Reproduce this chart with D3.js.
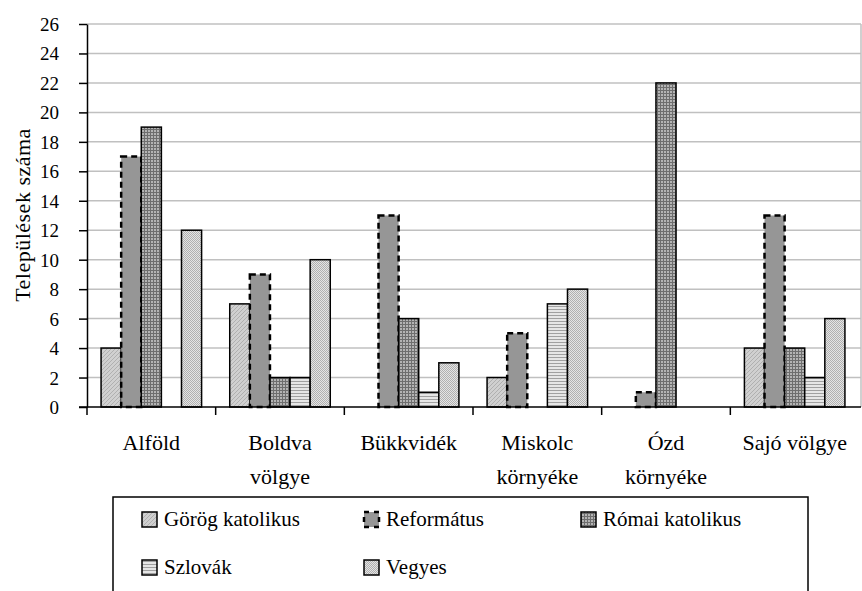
<!DOCTYPE html>
<html>
<head>
<meta charset="utf-8">
<style>
  body { margin: 0; background: #fff; }
  svg text { font-family: "Liberation Serif", "Times New Roman", serif; fill: #000; }
  .cat-label { font-size: 22px; text-anchor: middle; }
  .legend text { font-size: 21px; }
  .grid line { stroke: #c0c0c0; stroke-width: 1.5; }
</style>
<script src="https://d3js.org/d3.v7.min.js"></script>
</head>
<body>
<svg width="862" height="591"></svg>
<script>
// data
var regions = [["Alföld"], ["Boldva", "völgye"], ["Bükkvidék"], ["Miskolc", "környéke"], ["Ózd", "környéke"], ["Sajó völgye"]];
var series = ["Görög katolikus", "Református", "Római katolikus", "Szlovák", "Vegyes"];
var gorog = [4, 7, 0, 2, 0, 4];
var reformatus = [17, 9, 13, 5, 1, 13];
var romai = [19, 2, 6, 0, 22, 4];
var szlovak = [0, 2, 1, 7, 0, 2];
var vegyes = [12, 10, 3, 8, 0, 6];
var yTicks = [0, 2, 4, 6, 8, 10, 12, 14, 16, 18, 20, 22, 24, 26];

var values = [gorog, reformatus, romai, szlovak, vegyes];
var fills = ["url(#pGorog)", "#969696", "url(#pRomai)", "url(#pSzlovak)", "url(#pVegyes)"];

var svg = d3.select("svg");
var plotL = 87, plotR = 859, plotT = 24, plotB = 407;

// patterns
var defs = svg.append("defs");
var p1 = defs.append("pattern").attr("id", "pGorog").attr("width", 4).attr("height", 4)
    .attr("patternUnits", "userSpaceOnUse");
p1.append("rect").attr("width", 4).attr("height", 4).attr("fill", "#d0d0d0");
p1.append("path").attr("d", "M0,4 L4,0 M-1,1 L1,-1 M3,5 L5,3").attr("stroke", "#b0b0b0").attr("stroke-width", 1);

var p3 = defs.append("pattern").attr("id", "pRomai").attr("width", 3).attr("height", 3)
    .attr("patternUnits", "userSpaceOnUse");
p3.append("rect").attr("width", 3).attr("height", 3).attr("fill", "#b4b4b4");
p3.append("path").attr("d", "M0,0.5 H3 M0.5,0 V3").attr("stroke", "#6e6e6e").attr("stroke-width", 1);

var p4 = defs.append("pattern").attr("id", "pSzlovak").attr("width", 3).attr("height", 3)
    .attr("patternUnits", "userSpaceOnUse");
p4.append("rect").attr("width", 3).attr("height", 3).attr("fill", "#e6e6e6");
p4.append("path").attr("d", "M0,0.5 H3").attr("stroke", "#a0a0a0").attr("stroke-width", 1);

var p5 = defs.append("pattern").attr("id", "pVegyes").attr("width", 2).attr("height", 2)
    .attr("patternUnits", "userSpaceOnUse");
p5.append("rect").attr("width", 2).attr("height", 2).attr("fill", "#e4e4e4");
p5.append("rect").attr("width", 1).attr("height", 1).attr("fill", "#b0b0b0");
p5.append("rect").attr("x", 1).attr("y", 1).attr("width", 1).attr("height", 1).attr("fill", "#b0b0b0");

// scales
var x = d3.scaleBand().domain(d3.range(regions.length)).range([plotL, plotR]).padding(0);
var xs = d3.scaleBand().domain(d3.range(series.length)).range([0, x.bandwidth()])
    .paddingInner(0).paddingOuter(0.7);
var y = d3.scaleLinear().domain([0, 26]).range([plotB, plotT]);

// grid
svg.append("g").attr("class", "grid")
    .selectAll("line").data(yTicks.slice(1)).enter().append("line")
    .attr("x1", plotL).attr("x2", plotR + 2)
    .attr("y1", function(d) { return y(d); })
    .attr("y2", function(d) { return y(d); });
svg.append("line").attr("x1", plotR + 2).attr("x2", plotR + 2).attr("y1", plotT).attr("y2", plotB)
    .attr("stroke", "#c0c0c0").attr("stroke-width", 1.5);

// bars
series.forEach(function(s, si) {
    var g = svg.append("g");
    g.selectAll("rect").data(values[si]).enter().append("rect")
        .attr("x", function(d, i) { return x(i) + xs(si); })
        .attr("y", function(d) { return y(d); })
        .attr("width", xs.bandwidth())
        .attr("height", function(d) { return y(0) - y(d); })
        .attr("fill", fills[si])
        .attr("stroke", "#000")
        .attr("stroke-width", si == 1 ? 2.5 : 1.5)
        .attr("stroke-dasharray", si == 1 ? "6,4" : null)
        .style("display", function(d) { return d == 0 ? "none" : null; });
});

// y axis
var yAxis = d3.axisLeft(y).tickValues(yTicks).tickSize(8).tickSizeOuter(0);
var ya = svg.append("g").attr("transform", "translate(" + plotL + ",0)").call(yAxis);
ya.select(".domain").attr("stroke", "#000").attr("stroke-width", 1.5);
ya.selectAll(".tick line").attr("stroke", "#000").attr("stroke-width", 1.5);
ya.selectAll(".tick text").attr("x", -28).attr("dy", "0.34em")
    .style("font-size", "19px").style("font-family", "Liberation Serif");

// x axis line and category separators
svg.append("line").attr("x1", plotL - 8).attr("x2", plotR + 2).attr("y1", plotB).attr("y2", plotB)
    .attr("stroke", "#000").attr("stroke-width", 1.5);
svg.append("g").selectAll("line").data(d3.range(regions.length)).enter().append("line")
    .attr("x1", function(d) { return x(d); }).attr("x2", function(d) { return x(d); })
    .attr("y1", plotB).attr("y2", plotB + 8)
    .attr("stroke", "#000").attr("stroke-width", 1.5);

// category labels
var cl = svg.append("g").selectAll("text").data(regions).enter().append("text")
    .attr("class", "cat-label")
    .attr("x", function(d, i) { return x(i) + x.bandwidth() / 2; })
    .attr("y", 450);
cl.selectAll("tspan").data(function(d) { return d; }).enter().append("tspan")
    .attr("x", function() { return d3.select(this.parentNode).attr("x"); })
    .attr("dy", function(d, i) { return i == 0 ? 0 : 34; })
    .text(function(d) { return d; });

// y title
svg.append("text").attr("transform", "translate(30,215) rotate(-90)")
    .attr("text-anchor", "middle").style("font-size", "22px").style("letter-spacing", "0.5px")
    .text("Települések száma");

// legend
var legend = svg.append("g").attr("class", "legend");
legend.append("rect").attr("x", 113).attr("y", 497).attr("width", 695).attr("height", 110)
    .attr("fill", "#fff").attr("stroke", "#000").attr("stroke-width", 1.5);
var legX = [142, 364, 581];
var legY = [519, 567];
var items = legend.selectAll(".item").data(series).enter().append("g")
    .attr("transform", function(d, i) { return "translate(" + legX[i % 3] + "," + legY[Math.floor(i / 3)] + ")"; });
items.append("rect").attr("x", 0).attr("y", -7).attr("width", 15).attr("height", 15)
    .attr("fill", function(d, i) { return fills[i]; })
    .attr("stroke", "#000")
    .attr("stroke-width", function(d, i) { return i == 1 ? 2.5 : 1.5; })
    .attr("stroke-dasharray", function(d, i) { return i == 1 ? "5,5" : null; });
items.append("text").attr("x", 22).attr("y", 7).text(function(d) { return d; });
</script>
</body>
</html>
